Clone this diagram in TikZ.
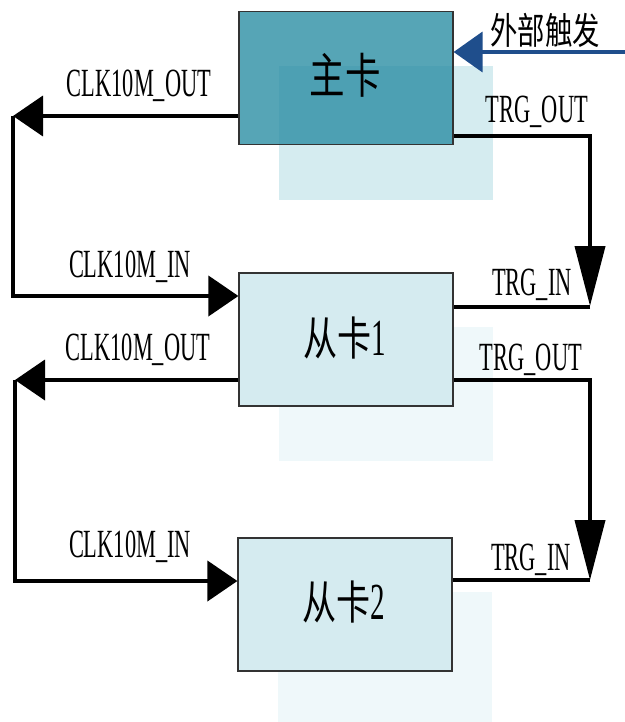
\documentclass[tikz,border=0pt]{standalone}
\usepackage{fontspec}
\usetikzlibrary{arrows.meta,calc}
\newfontfamily\labfont{Liberation Serif}[FakeStretch=0.56]
\newfontfamily\cjkfont{Noto Sans CJK SC}[FakeStretch=0.74]
\definecolor{mainfill}{HTML}{2C8EA4}
\definecolor{mainover}{HTML}{D5ECF0}
\definecolor{slavefill}{HTML}{D5EBF0}
\definecolor{slaveover}{HTML}{EFF8FA}
\definecolor{trigblue}{HTML}{1F4E8C}
\definecolor{boxline}{HTML}{333333}
\tikzset{
  card/.style={draw=boxline, line width=1.2pt, minimum width=214pt, minimum height=133pt, inner sep=0pt},
  shade/.style={inner sep=0pt, minimum width=214pt, minimum height=134pt},
  wire/.style={line width=4pt, black},
  harr/.style={wire, -{Triangle[length=30pt,width=40pt]}},
  varr/.style={wire, -{Triangle[length=60pt,width=30pt]}},
  lab/.style={font=\labfont\fontsize{40}{40}\selectfont, inner sep=0pt, anchor=base},
  cardtext/.style={font=\cjkfont\fontsize{48}{48}\selectfont, inner sep=0pt},
}
\begin{document}
\begin{tikzpicture}[x=1pt,y=-1pt]
\useasboundingbox (0,0) rectangle (624,722);
% background shades
\node[shade, fill=mainover] (sh0) at (386,133) {};
\node[shade, fill=slaveover] (sh1) at (386,394) {};
\node[shade, fill=slaveover, minimum height=131pt] (sh2) at (385,657.5) {};
% cards
\node[card, fill=mainfill, fill opacity=0.8, draw opacity=1] (main) at (346,78) {};
\node[card, fill=slavefill] (s1) at (346,339.5) {};
\node[card, fill=slavefill] (s2) at (345,604.5) {};
\node[cardtext] (tmain) at (345,75) {主卡};
\node[cardtext, font=\cjkfont\fontsize{46}{46}\selectfont] (ts1) at (345,338) {从卡{\labfont\fontsize{52}{52}\selectfont 1}};
\node[cardtext, font=\cjkfont\fontsize{46}{46}\selectfont] (ts2) at (344,602) {从卡{\labfont\fontsize{52}{52}\selectfont 2}};
% external trigger
\coordinate (ext) at (626,52);
\draw[line width=4pt, trigblue, -{Triangle[length=29pt,width=40pt]}] (ext) -- ([yshift=26pt]main.east);
\node[font=\cjkfont\fontsize{37}{37}\selectfont, inner sep=0pt] (tex) at (545,30) {外部触发};
% corners
\coordinate (cl0) at (13,116);
\coordinate (cl1) at (15,380);
\coordinate (ct0) at (590,136);
\coordinate (ct0b) at (590,306);
\coordinate (ct1) at (590,380);
\coordinate (ct1b) at (590,580);
% clock main -> s1
\draw[harr] ([yshift=-38pt]main.west) -- (cl0);
\draw[harr] (cl0) -- (cl0 |- 0,296) -- ([yshift=43.5pt]s1.west);
% clock s1 -> s2
\draw[harr] ([yshift=-40.5pt]s1.west) -- (cl1);
\draw[harr] (cl1) -- (cl1 |- 0,581) -- ([yshift=23.5pt]s2.west);
% trigger main -> s1
\draw[varr] ([yshift=-58pt]main.east) -- (ct0) -- (ct0b);
\draw[wire] (ct0b |- 0,307) -- ([yshift=32.5pt]s1.east);
% trigger s1 -> s2
\draw[varr] ([yshift=-40.5pt]s1.east) -- (ct1) -- (ct1b);
\draw[wire] (ct1b) -- ([yshift=24.5pt]s2.east);
% labels
\node[lab] (l1) at (139,97) {CLK10M\_OUT};
\node[lab] (l2) at (130,277) {CLK10M\_IN};
\node[lab] (l3) at (537,123) {TRG\_OUT};
\node[lab] (l4) at (532,295) {TRG\_IN};
\node[lab] (l5) at (138,360) {CLK10M\_OUT};
\node[lab] (l6) at (130,557) {CLK10M\_IN};
\node[lab] (l7) at (531,370) {TRG\_OUT};
\node[lab] (l8) at (531,570) {TRG\_IN};
\end{tikzpicture}
\end{document}
